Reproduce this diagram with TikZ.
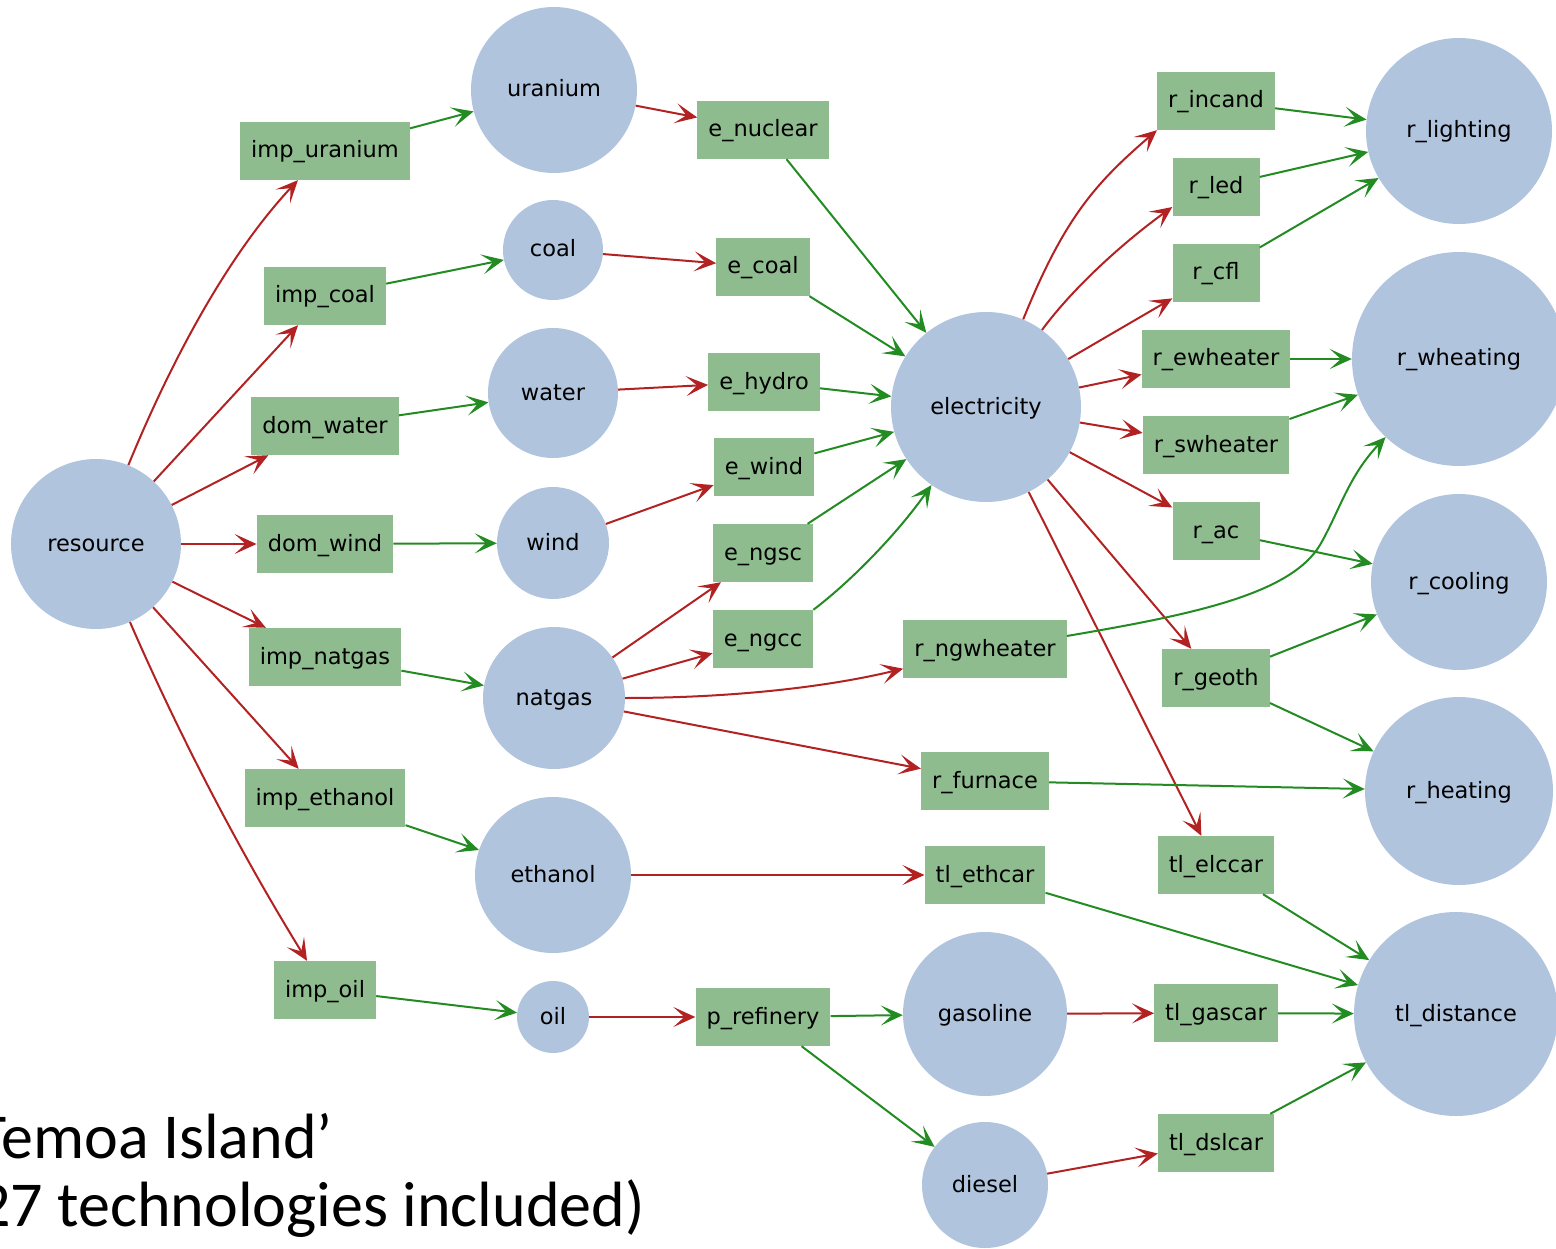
\documentclass[tikz,border=0pt]{standalone}
\usepackage{fontspec}
\usetikzlibrary{arrows.meta}
\newfontfamily\dvf{DejaVu Sans}
\newfontfamily\calib{Carlito}
\definecolor{cblue}{HTML}{B0C4DE}
\definecolor{cgreen}{HTML}{8FBC8F}
\definecolor{cred}{HTML}{B22222}
\definecolor{cgrn}{HTML}{228B22}
\begin{document}
\begin{tikzpicture}[x=1pt,y=-1pt,
  lbl/.style={font=\dvf\fontsize{22.5}{27}\selectfont, text height=18pt, text depth=4pt},
  com/.style={lbl, circle, fill=cblue, inner sep=0pt},
  tech/.style={lbl, rectangle, fill=cgreen, minimum height=58pt, minimum width=87pt, inner xsep=11pt, inner ysep=0pt},
  tip/.style={-{Stealth[length=22pt,width=20pt,inset=11pt]}},
  rd/.style={draw=cred, line width=2pt, tip},
  gn/.style={draw=cgrn, line width=2pt, tip},
  big/.style={font=\calib\fontsize{64}{70}\selectfont, inner sep=0pt}
]
\useasboundingbox (0,0) rectangle (1556,1249);
% commodities
\node[com, minimum size=170pt] (resource) at (96,544) {resource};
\node[com, minimum size=166pt] (uranium) at (554,90) {uranium};
\node[com, minimum size=100pt] (coal) at (553,250) {coal};
\node[com, minimum size=130pt] (water) at (553,393) {water};
\node[com, minimum size=112pt] (wind) at (553,543) {wind};
\node[com, minimum size=142pt] (natgas) at (554,698) {natgas};
\node[com, minimum size=156pt] (ethanol) at (553,875) {ethanol};
\node[com, minimum size=72pt] (oil) at (553,1017) {oil};
\node[com, minimum size=190pt] (electricity) at (986,407) {electricity};
\node[com, minimum size=164pt] (gasoline) at (985,1014) {gasoline};
\node[com, minimum size=126pt] (diesel) at (985,1185) {diesel};
\node[com, minimum size=186pt] (r_lighting) at (1459,131) {r\_lighting};
\node[com, minimum size=214pt] (r_wheating) at (1459,359) {r\_wheating};
\node[com, minimum size=176pt] (r_cooling) at (1459,582) {r\_cooling};
\node[com, minimum size=188pt] (r_heating) at (1459,791) {r\_heating};
\node[com, minimum size=204pt] (tl_distance) at (1456,1014) {tl\_distance};
% technologies
\node[tech] (imp_uranium) at (325,151) {imp\_uranium};
\node[tech] (imp_coal) at (325,296) {imp\_coal};
\node[tech] (dom_water) at (325,426) {dom\_water};
\node[tech] (dom_wind) at (325,544) {dom\_wind};
\node[tech] (imp_natgas) at (325,657) {imp\_natgas};
\node[tech] (imp_ethanol) at (325,798) {imp\_ethanol};
\node[tech] (imp_oil) at (325,990) {imp\_oil};
\node[tech] (e_nuclear) at (763,130) {e\_nuclear};
\node[tech] (e_coal) at (763,267) {e\_coal};
\node[tech] (e_hydro) at (764,382) {e\_hydro};
\node[tech] (e_wind) at (764,467) {e\_wind};
\node[tech] (e_ngsc) at (763,553) {e\_ngsc};
\node[tech] (e_ngcc) at (763,639) {e\_ngcc};
\node[tech] (r_ngwheater) at (985,649) {r\_ngwheater};
\node[tech] (r_furnace) at (985,781) {r\_furnace};
\node[tech] (tl_ethcar) at (985,875) {tl\_ethcar};
\node[tech] (p_refinery) at (763,1017) {p\_refinery};
\node[tech] (r_incand) at (1216,101) {r\_incand};
\node[tech] (r_led) at (1216,187) {r\_led};
\node[tech] (r_cfl) at (1216,273) {r\_cfl};
\node[tech] (r_ewheater) at (1216,359) {r\_ewheater};
\node[tech] (r_swheater) at (1216,445) {r\_swheater};
\node[tech] (r_ac) at (1216,531) {r\_ac};
\node[tech] (r_geoth) at (1216,678) {r\_geoth};
\node[tech] (tl_elccar) at (1216,865) {tl\_elccar};
\node[tech] (tl_gascar) at (1216,1013) {tl\_gascar};
\node[tech] (tl_dslcar) at (1216,1143) {tl\_dslcar};
% red edges (commodity -> technology)
\draw[rd] (resource) .. controls (160,388) and (217,267) .. (imp_uranium);
\draw[rd] (resource) -- (imp_coal);
\draw[rd] (resource) -- (dom_water);
\draw[rd] (resource) -- (dom_wind);
\draw[rd] (resource) -- (imp_natgas);
\draw[rd] (resource) -- (imp_ethanol);
\draw[rd] (resource) .. controls (180,737) and (240,852) .. (imp_oil);
\draw[rd] (uranium) -- (e_nuclear);
\draw[rd] (coal) -- (e_coal);
\draw[rd] (water) -- (e_hydro);
\draw[rd] (wind) -- (e_wind);
\draw[rd] (natgas) -- (e_ngsc);
\draw[rd] (natgas) -- (e_ngcc);
\draw[rd] (natgas) .. controls (720,698) and (819,689) .. (r_ngwheater);
\draw[rd] (natgas) -- (r_furnace);
\draw[rd] (ethanol) -- (tl_ethcar);
\draw[rd] (oil) -- (p_refinery);
\draw[rd] (electricity.67.5) .. controls (1065,216) and (1097,182) .. (r_incand.south west);
\draw[rd] (electricity.54) .. controls (1076,284) and (1128,239) .. ([yshift=-20pt]r_led.west);
\draw[rd] (electricity) -- (r_cfl);
\draw[rd] (electricity) -- (r_ewheater);
\draw[rd] (electricity) -- (r_swheater);
\draw[rd] (electricity) -- (r_ac);
\draw[rd] (electricity) -- (r_geoth);
\draw[rd] (electricity) -- (tl_elccar);
\draw[rd] (gasoline) -- (tl_gascar);
\draw[rd] (diesel) -- (tl_dslcar);
% green edges (technology -> commodity)
\draw[gn] (imp_uranium) -- (uranium);
\draw[gn] (imp_coal) -- (coal);
\draw[gn] (dom_water) -- (water);
\draw[gn] (dom_wind) -- (wind);
\draw[gn] (imp_natgas) -- (natgas);
\draw[gn] (imp_ethanol) -- (ethanol);
\draw[gn] (imp_oil) -- (oil);
\draw[gn] (e_nuclear) -- (electricity);
\draw[gn] (e_coal) -- (electricity);
\draw[gn] (e_hydro) -- (electricity);
\draw[gn] (e_wind) -- (electricity);
\draw[gn] (e_ngsc) -- (electricity);
\draw[gn] (e_ngcc.north east) .. controls (855,578) and (900,530) .. (electricity);
\draw[gn] (p_refinery) -- (gasoline);
\draw[gn] (p_refinery) -- (diesel);
\draw[gn] (r_incand) -- (r_lighting);
\draw[gn] (r_led) -- (r_lighting);
\draw[gn] (r_cfl) -- (r_lighting);
\draw[gn] (r_ewheater) -- (r_wheating);
\draw[gn] (r_swheater) -- (r_wheating);
\draw[gn] ([yshift=13pt]r_ngwheater.east) .. controls (1190,615) and (1290,595) .. (1320,545)
   .. controls (1340,510) and (1348,477) .. (r_wheating);
\draw[gn] (r_ac) -- (r_cooling);
\draw[gn] (r_geoth) -- (r_cooling);
\draw[gn] (r_geoth) -- (r_heating);
\draw[gn] (r_furnace) -- (r_heating);
\draw[gn] (tl_ethcar) -- (tl_distance);
\draw[gn] (tl_elccar) -- (tl_distance);
\draw[gn] (tl_gascar) -- (tl_distance);
\draw[gn] (tl_dslcar) -- (tl_distance);
% caption
\node[big, anchor=base east] (cap1) at (333,1158) {‘Temoa Island’};
\node[big, anchor=base east] (cap2) at (645,1226) {(27 technologies included)};
\end{tikzpicture}
\end{document}
